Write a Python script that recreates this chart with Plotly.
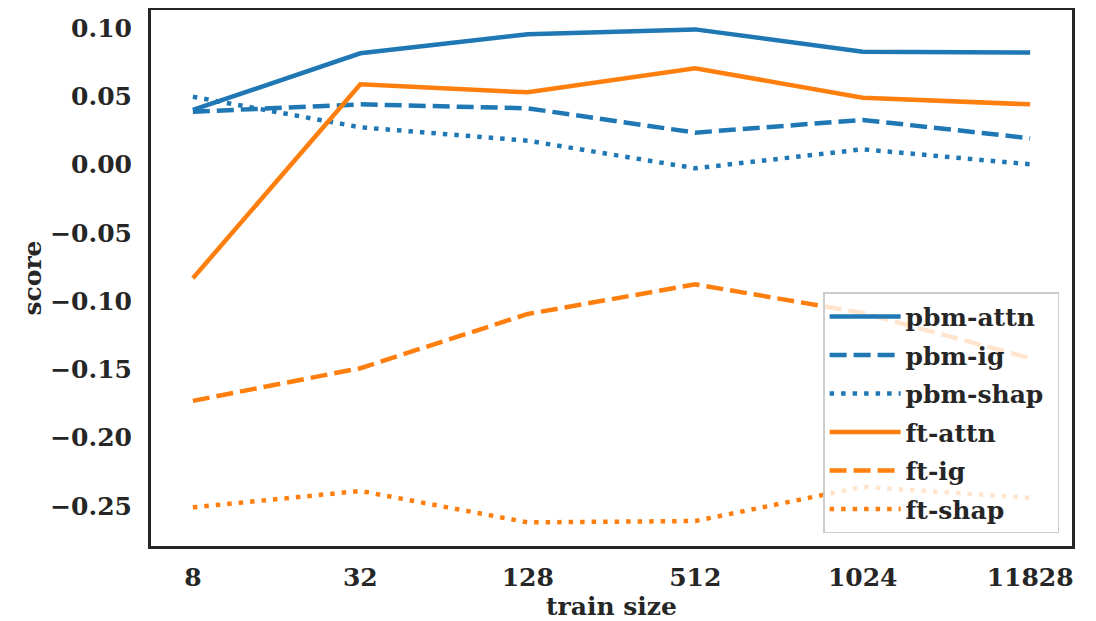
import plotly.graph_objects as go

train_sizes = ["8", "32", "128", "512", "1024", "11828"]

pbm_attn = [0.040, 0.0815, 0.0955, 0.099, 0.0827, 0.082]
pbm_ig = [0.0387, 0.0441, 0.0412, 0.0234, 0.0327, 0.0193]
pbm_shap = [0.0497, 0.0273, 0.0175, -0.0027, 0.0112, 0.0002]
ft_attn = [-0.0833, 0.0588, 0.0529, 0.0705, 0.049, 0.0441]
ft_ig = [-0.173, -0.1491, -0.1094, -0.0877, -0.1086, -0.1418]
ft_shap = [-0.251, -0.239, -0.262, -0.261, -0.236, -0.244]

series = [
    ("pbm-attn", pbm_attn, "#1f77b4", "solid"),
    ("pbm-ig", pbm_ig, "#1f77b4", "17px,7px"),
    ("pbm-shap\u00a0", pbm_shap, "#1f77b4", "4.5px,7px"),
    ("ft-attn", ft_attn, "#ff7f0e", "solid"),
    ("ft-ig", ft_ig, "#ff7f0e", "17px,7px"),
    ("ft-shap", ft_shap, "#ff7f0e", "4.5px,7px"),
]

yticks = [0.10, 0.05, 0.00, -0.05, -0.10, -0.15, -0.20, -0.25]

fig = go.Figure()
for name, vals, color, dash in series:
    fig.add_trace(go.Scatter(
        x=train_sizes, y=vals, mode="lines", name=name,
        legendgroup=name,
        line=dict(color=color, width=4.5, dash=dash),
    ))

font_family = "DejaVu Serif"
# the page body has an 8px margin, so the figure is sized to fit the window
fig.update_layout(
    width=1088, height=613,
    margin=dict(l=143, r=24, t=2, b=75, autoexpand=False),
    paper_bgcolor="white", plot_bgcolor="white",
    font=dict(family=font_family, size=25, color="#262626", weight="bold"),
    showlegend=True,
    legend=dict(
        x=0.986, y=0.024, xanchor="right", yanchor="bottom",
        bgcolor="rgba(255,255,255,0.8)", bordercolor="#cccccc", borderwidth=1.5,
        font=dict(family=font_family, size=25, color="#262626", weight="bold"),
        tracegroupgap=3, itemwidth=71,
    ),
    xaxis=dict(
        type="category", range=[-0.25, 5.25], automargin=False,
        showline=True, mirror=True, linecolor="#262626", linewidth=3,
        showgrid=False, zeroline=False, ticks="",
        ticklabelstandoff=7,
        title=dict(text="train size", standoff=3,
                   font=dict(family=font_family, size=25, color="#262626", weight="bold")),
    ),
    yaxis=dict(
        range=[-0.2793, 0.1132], automargin=False,
        tickvals=yticks, tickformat=".2f",
        showline=True, mirror=True, linecolor="#262626", linewidth=3,
        showgrid=False, zeroline=False, ticks="",
        ticklabelstandoff=11,
        title=dict(text="score", standoff=2,
                   font=dict(family=font_family, size=25, color="#262626", weight="bold")),
    ),
)

fig.write_html("out.html")
